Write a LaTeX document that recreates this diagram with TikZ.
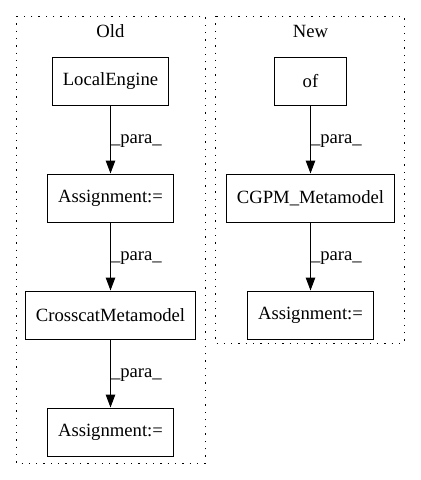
\documentclass[tikz,border=0pt]{standalone}
\usepackage{fontspec}
\setmainfont{Liberation Serif}
\usetikzlibrary{arrows.meta, positioning}

\begin{document}
\begin{tikzpicture}[
		x=1pt, y=1pt,
		node distance=68pt and 40pt,
		every node/.style={font=\fontsize{18.67}{22}\selectfont},
		call/.style={draw, rectangle, line width=1pt, minimum width=72pt, minimum height=48pt, inner xsep=10.5pt},
		cluster/.style={draw, line width=1pt, dash pattern=on 1.3pt off 6pt},
		para/.style={anchor=west, inner sep=0pt, yshift=-2pt},
		flow/.style={-{Triangle[length=13pt,width=9.5pt]}, line width=1pt},
		black
		]
		\useasboundingbox (0,0) rectangle (421,-480);
		% Clusters
		\draw[cluster] (16,-16) rectangle (205,-463);
		\node (oldlabel) at (110.5,-31) {Old};
		\draw[cluster] (215,-16) rectangle (404,-343);
		\node (newlabel) at (310.5,-31) {New};
		% Nodes for the old cluster
		\node[call] at (110.5,-81) (engine) {LocalEngine};
		\node[call, below=of engine] (assignA) {Assignment:=};
		\node[call, below=of assignA] (crosscat) {CrosscatMetamodel};
		\node[call, below=of crosscat] (assignB) {Assignment:=};
		% Nodes for the new cluster
		\node[call] at (310.5,-81) (of) {of};
		\node[call, below=of of] (cgpm) {CGPM\_Metamodel};
		\node[call, below=of cgpm] (assignC) {Assignment:=};

		% Old edges
		\draw[flow] (engine) -- (assignA) node[para, midway] {\_para\_};
		\draw[flow] (assignA) -- (crosscat) node[para, midway] {\_para\_};
		\draw[flow] (crosscat) -- (assignB) node[para, midway] {\_para\_};
		% New edges
		\draw[flow] (of) -- (cgpm) node[para, midway] {\_para\_};
		\draw[flow] (cgpm) -- (assignC) node[para, midway] {\_para\_};
	\end{tikzpicture}
\end{document}
